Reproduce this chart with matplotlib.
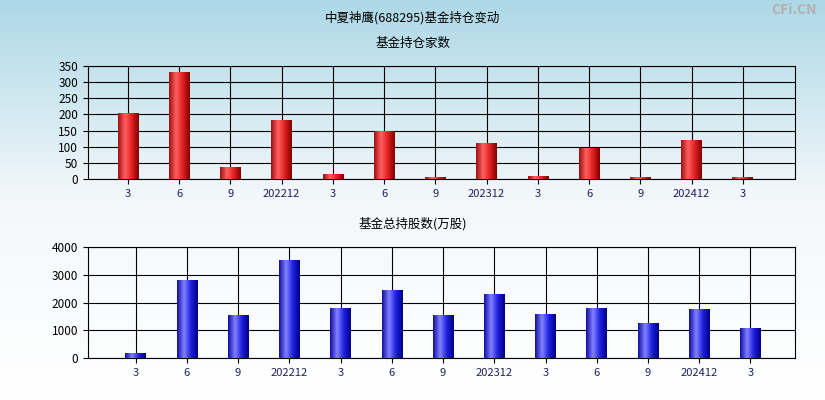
import matplotlib
matplotlib.use("Agg")
import matplotlib.pyplot as plt
import numpy as np
from matplotlib.colors import LinearSegmentedColormap

plt.rcParams['font.family'] = ['Noto Sans CJK SC', 'DejaVu Sans']

labels = ["3", "6", "9", "202212", "3", "6", "9", "202312", "3", "6", "9", "202412", "3"]
holders = [205, 330, 38, 183, 15, 150, 5, 110, 8, 95, 5, 120, 5]
shares = [170, 2800, 1550, 3530, 1800, 2450, 1550, 2300, 1580, 1800, 1270, 1750, 1080]

fig = plt.figure(figsize=(8.25, 4), dpi=100)
bg = fig.add_axes([0, 0, 1, 1], zorder=-10)
grad = np.linspace(0, 1, 256).reshape(-1, 1)
bg.imshow(grad, aspect='auto', cmap=LinearSegmentedColormap.from_list('bg', ['#add8e6', '#f4f8fb', '#ffffff']),
          extent=[0, 1, 0, 1], origin='upper')
bg.axis('off')

fig.text(0.5, 1 - 18/400, "中夏神鹰(688295)基金持仓变动", ha='center', va='center', fontsize=9)
fig.text(0.5, 1 - 43/400, "基金持仓家数", ha='center', va='center', fontsize=9)
fig.text(0.5, 1 - 224/400, "基金总持股数(万股)", ha='center', va='center', fontsize=9)
fig.text(0.99, 1 - 10/400, "CFi.CN", ha='right', va='center', fontsize=10, color='#b0b0b0', fontweight='bold')

red = LinearSegmentedColormap.from_list('r', ['#a01010', '#ff6060', '#e02020', '#800000'])
blue = LinearSegmentedColormap.from_list('b', ['#1010a0', '#8080ff', '#2020e0', '#000080'])

XL = (-0.78, 13.02)

def draw(ax, vals, cmap, ylim, yticks, offset):
    x = np.arange(len(vals)) + offset
    ax.patch.set_alpha(0)
    ax.set_yticks(yticks)
    ax.set_xticks(x)
    ax.set_xticklabels(labels, fontsize=8, color='#202060')
    ax.tick_params(axis='y', labelsize=8.5)
    ax.grid(True, color='black', linewidth=0.8)
    ax.set_axisbelow(True)
    w = 0.4
    bars = ax.bar(x, vals, width=w, color='none', zorder=2)
    g = np.linspace(0, 1, 64).reshape(1, -1)
    for b in bars:
        x0, h = b.get_x(), b.get_height()
        im = ax.imshow(g, aspect='auto', cmap=cmap, extent=[x0, x0 + w, 0, h], zorder=3)
        im.set_clip_path(b)
    ax.set_xlim(*XL)
    ax.set_ylim(0, ylim)

ax1 = fig.add_axes([88/825, 1 - 179/400, 707/825, 113/400])
draw(ax1, holders, red, 350, range(0, 351, 50), 0)
ax2 = fig.add_axes([88/825, 1 - 358/400, 707/825, 111/400])
draw(ax2, shares, blue, 4000, range(0, 4001, 1000), 0.15)

fig.savefig("out.png", dpi=100)
